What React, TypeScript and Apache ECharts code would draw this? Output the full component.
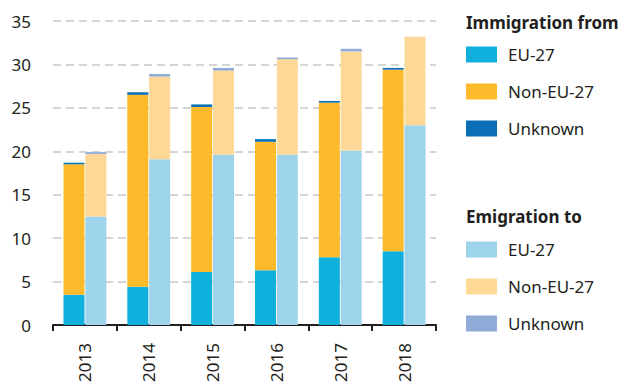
import React, { useEffect, useRef } from "react";
import * as echarts from "echarts";

const years = ["2013", "2014", "2015", "2016", "2017", "2018"];
const immEU = [3.5, 4.4, 6.1, 6.3, 7.8, 8.5];
const immNonEU = [15.0, 22.1, 19.0, 14.8, 17.8, 20.9];
const immUnknown = [0.2, 0.3, 0.3, 0.3, 0.2, 0.2];
const emiEU = [12.5, 19.1, 19.6, 19.6, 20.1, 23.0];
const emiNonEU = [7.2, 9.5, 9.7, 11.0, 11.4, 10.2];
const emiUnknown = [0.2, 0.3, 0.3, 0.2, 0.3, 0.0];
const yTicks = { min: 0, max: 35, interval: 5 };

const FONT = "'Noto Sans', 'Open Sans', sans-serif";
const TXT = "#231f20";
const FS = 17;

export default function App() {
  const ref = useRef<HTMLDivElement>(null);
  useEffect(() => {
    if (!ref.current) return;
    const chart = echarts.init(ref.current, undefined, { renderer: "svg" });
    const mk = (name: string, stack: string, data: number[], color: string) => ({
      name,
      type: "bar",
      stack,
      data,
      barWidth: 21,
      barGap: "4%",
      itemStyle: { color },
    });
    const legendBase = {
      orient: "vertical",
      left: 466,
      padding: 0,
      itemWidth: 31,
      itemHeight: 16,
      itemGap: 20,
      icon: "rect",
      textStyle: { fontSize: FS, color: TXT, fontFamily: FONT, padding: [0, 0, 0, 6] },
    };
    chart.setOption({
      animation: false,
      textStyle: { fontFamily: FONT },
      grid: { left: 53, top: 21, width: 383, height: 309, containLabel: false },
      title: [
        { text: "Immigration from", left: 466, top: 14, padding: 0, textStyle: { fontSize: FS, fontWeight: "bold", color: TXT, fontFamily: FONT } },
        { text: "Emigration to", left: 466, top: 208, padding: 0, textStyle: { fontSize: FS, fontWeight: "bold", color: TXT, fontFamily: FONT } },
      ],
      legend: [
        {
          ...legendBase,
          top: 46,
          data: ["Imm EU-27", "Imm Non-EU-27", "Imm Unknown"],
          formatter: (n: string) => n.replace(/^Imm /, ""),
        },
        {
          ...legendBase,
          top: 241,
          data: ["Emi EU-27", "Emi Non-EU-27", "Emi Unknown"],
          formatter: (n: string) => n.replace(/^Emi /, ""),
        },
      ],
      xAxis: {
        type: "category",
        data: years,
        axisLine: { show: true, lineStyle: { color: "#231f20", width: 2 } },
        axisTick: { show: true, length: 6, lineStyle: { color: "#231f20", width: 2 } },
        axisLabel: { rotate: 90, margin: 18, fontSize: FS, color: TXT, fontFamily: FONT },
      },
      yAxis: {
        type: "value",
        min: yTicks.min,
        max: yTicks.max,
        interval: yTicks.interval,
        axisLine: { show: false },
        axisTick: { show: false },
        axisLabel: { fontSize: FS, color: TXT, margin: 22, fontFamily: FONT },
        splitLine: { lineStyle: { color: "#c8c8c8", type: [8, 5], width: 1.5 } },
      },
      series: [
        mk("Imm EU-27", "imm", immEU, "#0fb0dc"),
        mk("Imm Non-EU-27", "imm", immNonEU, "#fdbb2b"),
        mk("Imm Unknown", "imm", immUnknown, "#0a6fb5"),
        mk("Emi EU-27", "emi", emiEU, "#9dd4ec"),
        mk("Emi Non-EU-27", "emi", emiNonEU, "#fed896"),
        mk("Emi Unknown", "emi", emiUnknown, "#8fabd8"),
      ],
    });
    return () => chart.dispose();
  }, []);
  return <div ref={ref} style={{ width: 627, height: 385, position: "absolute", left: 0, top: 0 }} />;
}
